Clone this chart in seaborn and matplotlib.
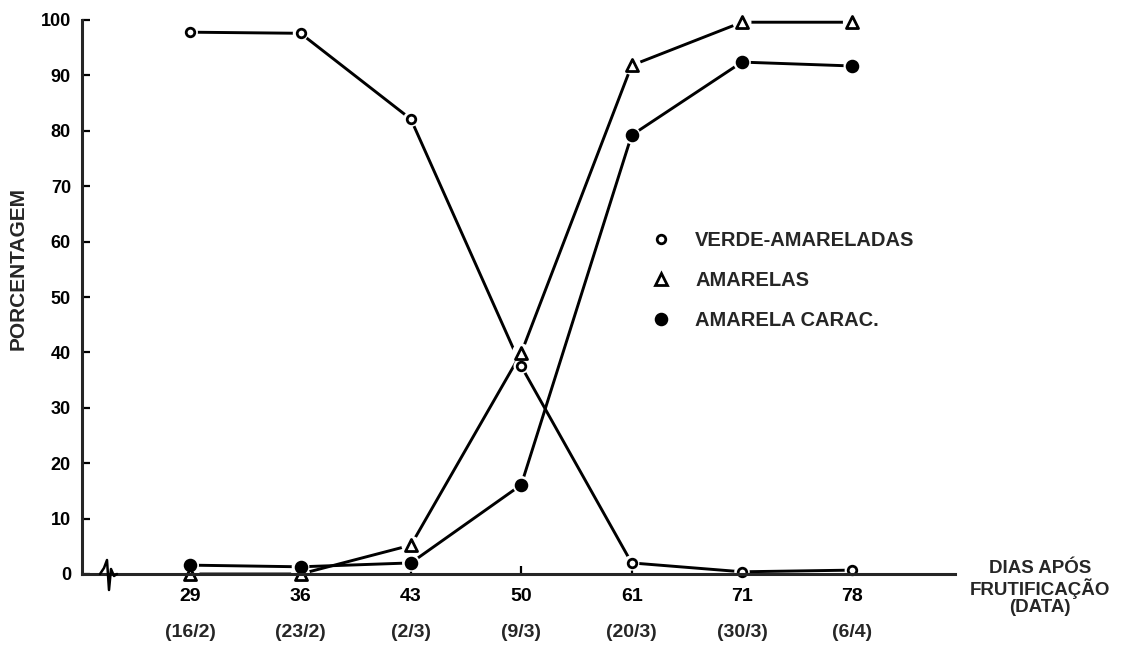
import matplotlib
matplotlib.use("Agg")
import matplotlib.pyplot as plt
from matplotlib.lines import Line2D
import seaborn as sns
import numpy as np

# dias apos frutificacao e datas
dias = ["29", "36", "43", "50", "61", "71", "78"]
datas = ["(16/2)", "(23/2)", "(2/3)", "(9/3)", "(20/3)", "(30/3)", "(6/4)"]

# porcentagem de frutos por classe de cor
verde_amareladas = [97.8, 97.6, 82.1, 37.5, 2.0, 0.4, 0.7]
amarelas = [0.0, 0.0, 5.2, 39.9, 91.8, 99.6, 99.6]
amarela_carac = [1.6, 1.3, 2.0, 16.1, 79.2, 92.4, 91.7]

sns.set_style("ticks")
plt.rcParams["font.family"] = ["Liberation Sans", "DejaVu Sans"]
plt.rcParams["font.weight"] = "bold"

fig = plt.figure(figsize=(11.26, 6.45), dpi=100)
# axes box in pixel terms: left 82, right 955, bottom 574, top 20
ax = fig.add_axes([82 / 1126, 1 - 574 / 645, 873 / 1126, 554 / 645])

x = np.arange(len(dias))
series = [
    ("VERDE-AMARELADAS", verde_amareladas, "o", "white", 38),
    ("AMARELAS", amarelas, "^", "white", 75),
    ("AMARELA CARAC.", amarela_carac, "o", "black", 60),
]

# lines first, white halos to leave small gaps, then markers
for name, vals, mk, fc, s in series:
    sns.lineplot(x=x, y=vals, ax=ax, color="black", lw=2.1, zorder=2,
                 clip_on=False)
for name, vals, mk, fc, s in series:
    sns.scatterplot(x=x, y=vals, ax=ax, marker="o", s=(np.sqrt(s) + 5) ** 2,
                    color="white", edgecolor="none", zorder=3, clip_on=False)
for name, vals, mk, fc, s in series:
    sns.scatterplot(x=x, y=vals, ax=ax, marker=mk, s=s, facecolor=fc,
                    edgecolor="black", linewidth=2.0, zorder=4, clip_on=False)

ax.set_xlim(-0.98, 6.93)
ax.set_ylim(0, 100)
ax.set_yticks(np.arange(0, 101, 10))
ax.set_xticks(x)
ax.set_xticklabels(dias)
sns.despine(ax=ax)
for sp in ("left", "bottom"):
    ax.spines[sp].set_linewidth(2.2)
    ax.spines[sp].set_zorder(5)
ax.tick_params(axis="both", direction="in", length=6, width=1.6,
               labelsize=13, colors="black")
ax.tick_params(axis="x", pad=10, labelsize=14)
ax.tick_params(axis="y", pad=8)

# datas abaixo dos dias
for i, d in enumerate(datas):
    ax.text(i, -0.105, d, transform=ax.get_xaxis_transform(), ha="center",
            va="center", fontsize=14, fontweight="bold")

ax.set_ylabel("PORCENTAGEM", fontsize=15, fontweight="bold")
ax.yaxis.set_label_coords(-0.062, 0.552)
ax.set_xlabel("")

ax.text(1.097, 0.025, "DIAS APÓS\nFRUTIFICAÇÃO\n(DATA)", transform=ax.transAxes,
        ha="center", va="top", fontsize=13.5, fontweight="bold",
        linespacing=1.05)

# axis break mark near the origin
bx = (np.array([-8, -4, -1, 1, 3, 6, 9]) + 26) / 873
by = np.array([0, 6, 14, -16, 5, -2, 0]) / 554
ax.add_line(Line2D(bx, by, transform=ax.transAxes, color="black", lw=1.8,
                   clip_on=False, zorder=6))

handles = [Line2D([], [], ls="none", marker=mk, ms=np.sqrt(s), mfc=fc,
                  mec="black", mew=2.0) for name, vals, mk, fc, s in series]
ax.legend(handles, [n for n, *_ in series], loc="upper left",
          bbox_to_anchor=(0.64, 0.637), frameon=False, fontsize=14.5,
          handlelength=1.0, handletextpad=1.2, labelspacing=1.05,
          borderpad=0)

fig.savefig("out.png", dpi=100)
